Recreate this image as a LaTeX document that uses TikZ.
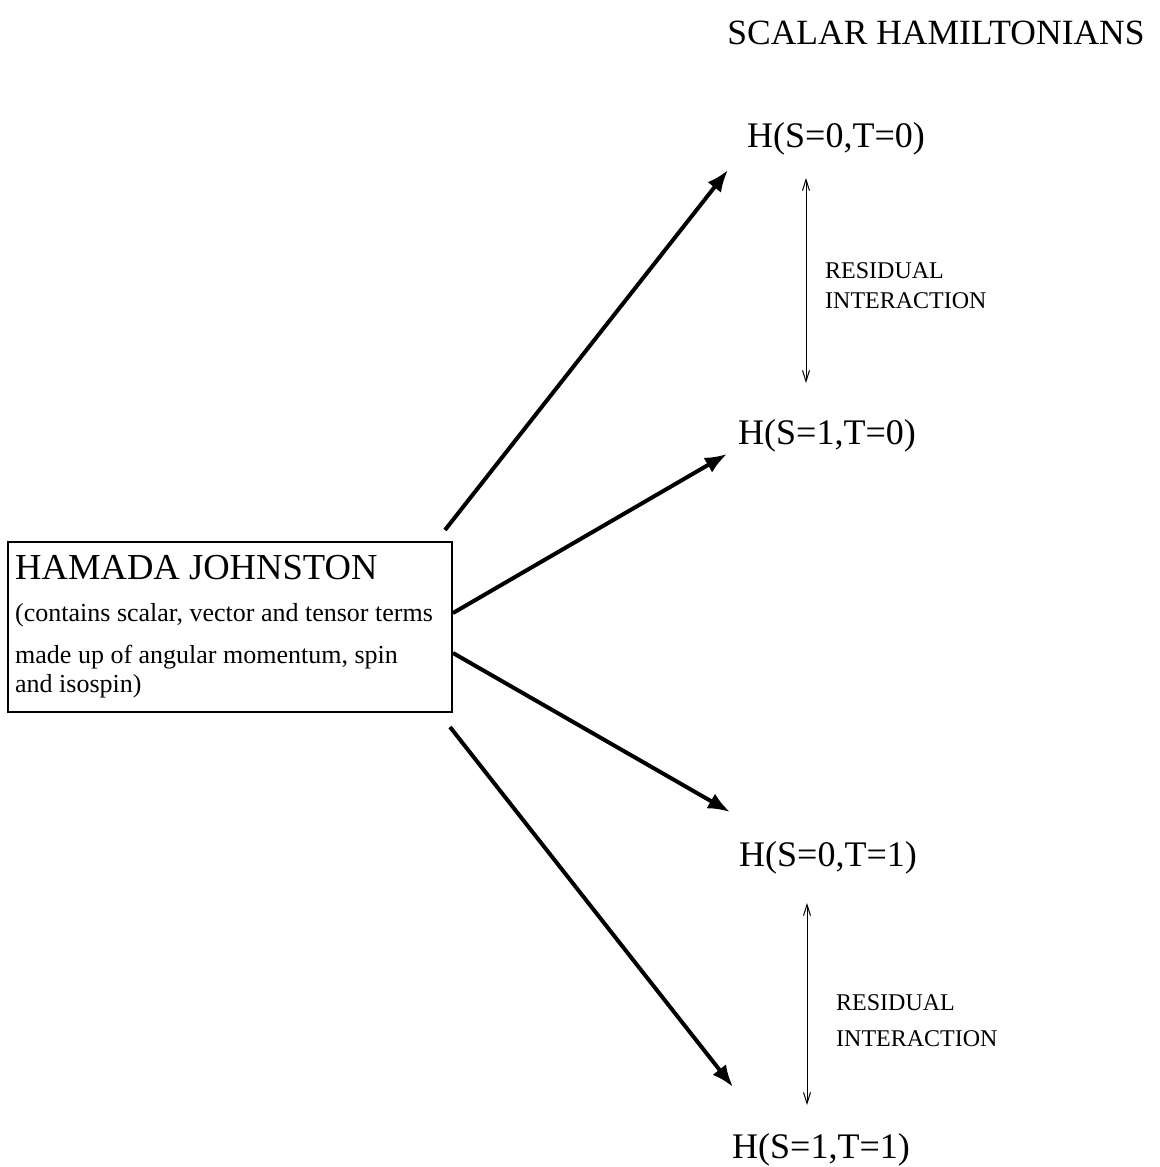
\documentclass[tikz,border=0pt]{standalone}
\usepackage{fontspec}
\setmainfont{Liberation Serif}
\usetikzlibrary{arrows.meta}
\begin{document}
\begin{tikzpicture}[x=1pt,y=-1pt,
  bigarrow/.style={line width=4pt,-{Latex[length=22pt,width=17pt]}},
  thinarrow/.style={line width=1pt,{Straight Barb[length=11pt,width=7pt]}-{Straight Barb[length=11pt,width=7pt]}},
  hlabel/.style={anchor=base,inner sep=0pt,font=\fontsize{36}{40}\selectfont},
  boxtext/.style={anchor=base west,inner sep=0pt,font=\fontsize{26}{30}\selectfont},
  restext/.style={anchor=base west,inner sep=0pt,font=\fontsize{24}{28}\selectfont}]
\useasboundingbox (0,0) rectangle (1159,1167);
% box
\node[draw,line width=1.2pt,minimum width=444pt,minimum height=170pt,inner sep=0pt] (box) at (230,627) {};
\node[anchor=base west,inner sep=0pt,font=\fontsize{36.6}{40}\selectfont] (hj) at (15,579) {HAMADA JOHNSTON};
\node[boxtext] (l2) at (15,621) {(contains scalar, vector and tensor terms};
\node[boxtext] (l3) at (15,663) {made up of angular momentum, spin};
\node[boxtext] (l4) at (15,692) {and isospin)};
% title
\node[anchor=base,inner sep=0pt,font=\fontsize{35.5}{40}\selectfont] (title) at (936,44) {SCALAR HAMILTONIANS};
% H labels
\node[hlabel] (h00) at (836,147) {H(S=0,T=0)};
\node[hlabel] (h10) at (827,444) {H(S=1,T=0)};
\node[hlabel] (h01) at (828,866) {H(S=0,T=1)};
\node[hlabel] (h11) at (821,1158) {H(S=1,T=1)};
% residual labels
\node[restext] (r1a) at (825,278) {RESIDUAL};
\node[restext] (r1b) at (825,308) {INTERACTION};
\node[restext] (r2a) at (836,1010) {RESIDUAL};
\node[restext] (r2b) at (836,1046) {INTERACTION};
% arrow coordinates
\coordinate (a1s) at (445,530);
\coordinate (a1e) at (728,170);
\coordinate (a2s) at (453,613);
\coordinate (a2e) at (727,454);
\coordinate (a3s) at (453,653);
\coordinate (a3e) at (730,812);
\coordinate (a4s) at (450,727);
\coordinate (a4e) at (733,1087);
\draw[bigarrow] (a1s) -- (a1e);
\draw[bigarrow] (a2s) -- (a2e);
\draw[bigarrow] (a3s) -- (a3e);
\draw[bigarrow] (a4s) -- (a4e);
% residual interaction arrows
\coordinate (d1t) at (806,178);
\coordinate (d1b) at (806,383);
\coordinate (d2t) at (807,903);
\coordinate (d2b) at (807,1105);
\draw[thinarrow] (d1t) -- (d1b);
\draw[thinarrow] (d2t) -- (d2b);
\end{tikzpicture}
\end{document}
